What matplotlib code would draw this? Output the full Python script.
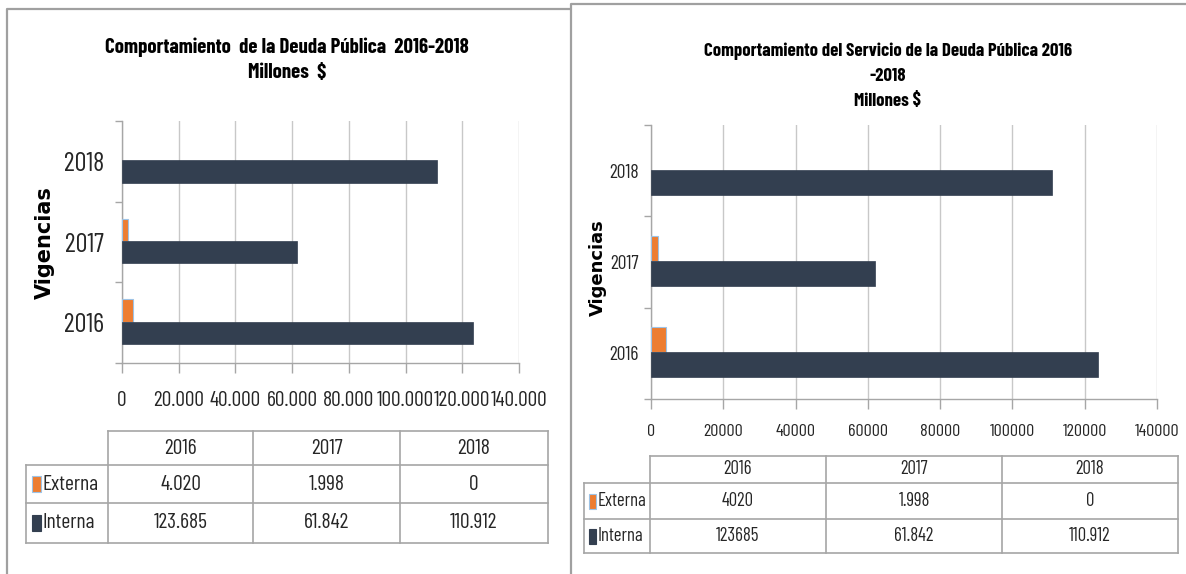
import matplotlib
matplotlib.use("Agg")
import matplotlib.pyplot as plt
from matplotlib.ticker import FixedLocator, FixedFormatter
from matplotlib.patches import Rectangle

# narrow face similar to the squeezed Calibri of the original
NARROW = ['Barlow Condensed', 'Archivo Narrow', 'Liberation Sans']
plt.rcParams['font.family'] = NARROW

W, H = 1186, 574

# ---- data -------------------------------------------------------------
years = ['2016', '2017', '2018']
externa = [4020, 1998, 0]
interna = [123685, 61842, 110912]
series_names = ['Externa', 'Interna']

# numbers as printed in each data table
tabla_izq = [['4.020', '1.998', '0'], ['123.685', '61.842', '110.912']]
tabla_der = [['4020', '1.998', '0'], ['123685', '61.842', '110.912']]

x_ticks = [0, 20000, 40000, 60000, 80000, 100000, 120000, 140000]
x_labels_izq = ['0', '20.000', '40.000', '60.000', '80.000', '100.000', '120.000', '140.000']
x_labels_der = ['0', '20000', '40000', '60000', '80000', '100000', '120000', '140000']

titulo_izq = 'Comportamiento  de la Deuda Pública  2016-2018\nMillones  $'
titulo_der = 'Comportamiento del Servicio de la Deuda Pública 2016\n-2018\nMillones $'

ORANGE = '#ED7D31'
NAVY = '#333F50'
EDGE = '#9DC3E6'
GRID = '#C8C8C8'
AXIS = '#A6A6A6'
TEXT = '#262626'
FRAME = '#A0A0A0'


def box(x0, y0, x1, y1):
    """pixel box (top-left origin) -> figure fraction rect"""
    return [x0 / W, 1 - y1 / H, (x1 - x0) / W, (y1 - y0) / H]


def draw_chart(ax, xlabels, fs_year, fs_tick, ypad, xpad):
    pos = list(range(len(years)))
    h = 0.275
    # no outline on empty bars (2018 externa = 0)
    ext_edges = [EDGE if v > 0 else 'none' for v in externa]
    ax.barh([p + 0.15 for p in pos], externa, height=h, color=ORANGE,
            edgecolor=ext_edges, linewidth=0.8, zorder=3)
    ax.barh([p - 0.125 for p in pos], interna, height=h, color=NAVY,
            edgecolor=NAVY, linewidth=0.5, zorder=3)
    ax.set_ylim(-0.5, len(years) - 0.5)
    ax.set_xlim(0, 140000)

    # excel style category axis: ticks between categories, labels centred
    ax.yaxis.set_major_locator(FixedLocator([p - 0.5 for p in pos] + [len(years) - 0.5]))
    ax.yaxis.set_major_formatter(FixedFormatter([]))
    ax.yaxis.set_minor_locator(FixedLocator(pos))
    ax.yaxis.set_minor_formatter(FixedFormatter(years))
    ax.tick_params(axis='y', which='major', length=5, color=AXIS, width=1)
    ax.tick_params(axis='y', which='minor', length=0, pad=ypad,
                   labelsize=fs_year, labelcolor=TEXT)

    ax.set_xticks(x_ticks)
    ax.set_xticklabels(xlabels)
    ax.tick_params(axis='x', length=7, color=AXIS, width=1, pad=xpad,
                   labelsize=fs_tick, labelcolor=TEXT)
    ax.grid(axis='x', color=GRID, linewidth=1, zorder=0)
    ax.set_axisbelow(True)
    for s in ('top', 'right'):
        ax.spines[s].set_visible(False)
    for s in ('left', 'bottom'):
        ax.spines[s].set_color(AXIS)
        ax.spines[s].set_linewidth(1)


def draw_table(ov, xs, ys, cells, fs, sq):
    lc = '#A6A6A6'
    ov.plot([xs[1], xs[-1]], [ys[0], ys[0]], color=lc, lw=1.2)
    for y in ys[1:]:
        ov.plot([xs[0], xs[-1]], [y, y], color=lc, lw=1.2)
    ov.plot([xs[0], xs[0]], [ys[1], ys[-1]], color=lc, lw=1.2)
    for x in xs[1:]:
        ov.plot([x, x], [ys[0], ys[-1]], color=lc, lw=1.2)
    for j, yr in enumerate(years):
        ov.text((xs[j + 1] + xs[j + 2]) / 2, (ys[0] + ys[1]) / 2, yr,
                ha='center', va='center', fontsize=fs, color=TEXT)
    colors = [ORANGE, NAVY]
    edges = [EDGE, NAVY]
    for i, name in enumerate(series_names):
        yc = (ys[i + 1] + ys[i + 2]) / 2
        sx, sw, sh = sq
        ov.add_patch(Rectangle((xs[0] + sx, yc - sh / 2), sw, sh,
                               facecolor=colors[i], edgecolor=edges[i], lw=0.8))
        ov.text(xs[0] + sx + sw + 2, yc, name, ha='left', va='center',
                fontsize=fs, color=TEXT)
        for j, val in enumerate(cells[i]):
            ov.text((xs[j + 1] + xs[j + 2]) / 2, yc, val, ha='center',
                    va='center', fontsize=fs, color=TEXT)


fig = plt.figure(figsize=(W / 100, H / 100), dpi=100)

# overlay in pixel coordinates for frames and tables
ov = fig.add_axes([0, 0, 1, 1])
ov.set_xlim(0, W)
ov.set_ylim(H, 0)
ov.axis('off')

# panel frames
ov.plot([7, 7, 570], [H, 8.5, 8.5], color=FRAME, lw=1.6)
ov.plot([571, 571, W], [H, 3.5, 3.5], color=FRAME, lw=1.6)

# left chart
ax1 = fig.add_axes(box(122, 121, 519, 363))
draw_chart(ax1, x_labels_izq, fs_year=19, fs_tick=15.5, ypad=13, xpad=13)
fig.text(287 / W, 1 - 60 / H, titulo_izq, ha='center', va='center',
         fontsize=15, fontweight='bold', color='black', linespacing=1.4)
fig.text(45 / W, 1 - 243 / H, 'Vigencias', rotation=90, ha='center',
         va='center', fontsize=15, fontweight='bold', color='black',
         family=['DejaVu Sans'])
draw_table(ov, [26, 108, 253, 400, 548], [431, 465, 503, 543], tabla_izq,
           fs=15.5, sq=(6, 9, 16))

# right chart
ax2 = fig.add_axes(box(651, 125, 1157, 399))
draw_chart(ax2, x_labels_der, fs_year=14, fs_tick=13, ypad=9, xpad=11)
fig.text(888 / W, 1 - 76 / H, titulo_der, ha='center', va='center',
         fontsize=13.5, fontweight='bold', color='black', linespacing=1.6)
fig.text(598 / W, 1 - 268 / H, 'Vigencias', rotation=90, ha='center',
         va='center', fontsize=13, fontweight='bold', color='black',
         family=['DejaVu Sans'])
draw_table(ov, [584, 650, 826, 1002, 1178], [456, 483, 519, 553], tabla_der,
           fs=13.5, sq=(5, 7, 15))

fig.savefig('out.png', dpi=100)
